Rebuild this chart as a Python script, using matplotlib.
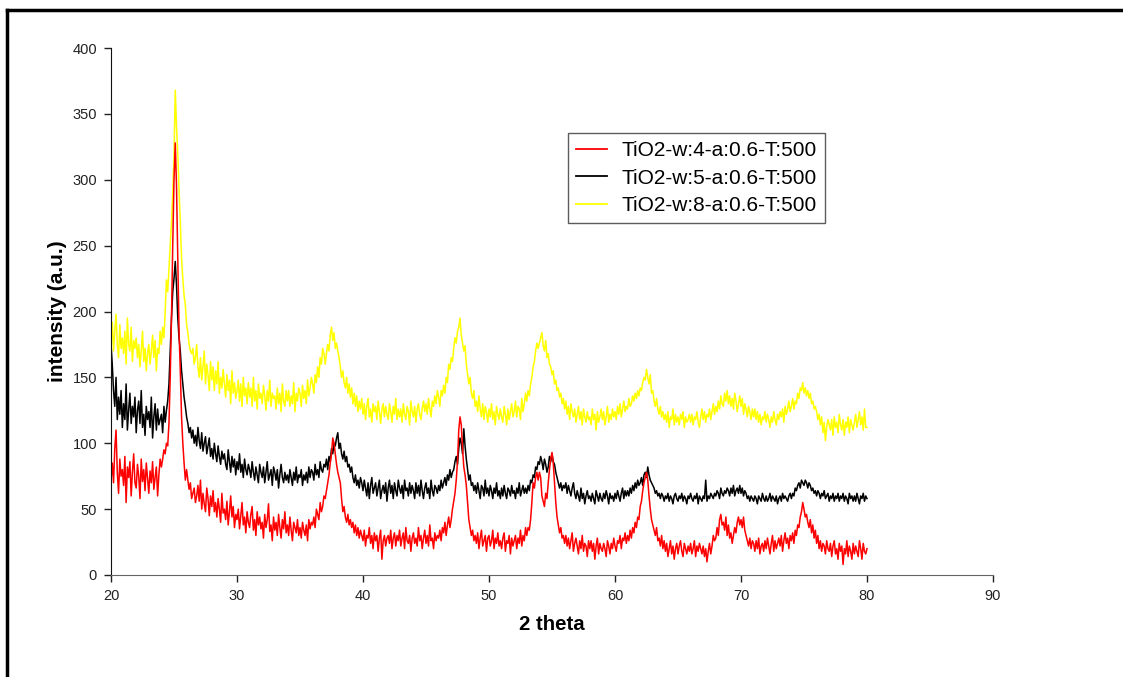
import numpy as np
import matplotlib
matplotlib.use("Agg")
import matplotlib.pyplot as plt
from matplotlib.lines import Line2D

# ==========================================
# DATA (0.1 deg steps from 20 to 80)
# ==========================================
X_START, X_STEP = 20.0, 0.1

red_w4 = [float(v) for v in """
72 85 70 96 110 78 62 88 75 80
68 90 55 82 74 86 60 78 92 70
66 84 75 58 88 71 80 64 85 73
62 79 70 86 65 74 82 60 76 88
82 88 95 92 100 98 115 150 195 250
300 328 295 240 185 155 120 100 85 72
80 72 65 70 58 62 66 55 60 68
56 72 50 62 54 48 66 58 45 60
52 64 48 55 44 58 50 40 62 47
50 42 56 38 48 60 44 52 36 46
42 50 35 45 55 38 44 32 48 40
36 46 52 34 42 30 48 38 44 35
40 28 46 36 42 54 33 38 26 44
34 40 30 46 36 28 42 35 48 32
38 30 44 34 26 40 36 32 42 30
36 28 40 34 30 38 26 42 35 40
38 44 36 50 46 42 55 48 52 60
58 64 70 76 85 92 104 100 92 84
78 74 70 58 48 52 44 40 46 38
42 36 40 32 38 30 36 28 34 30
26 34 22 30 28 36 24 30 20 32
26 30 18 28 34 12 26 30 22 28
30 24 34 20 28 32 22 30 26 34
22 28 32 20 36 26 24 30 18 28
32 24 28 22 36 26 30 20 28 34
24 30 22 38 26 28 20 32 26 30
28 34 26 36 32 40 30 38 44 36
42 50 56 62 72 86 110 120 114 96
82 76 68 55 42 36 30 34 26 30
24 32 20 28 34 22 26 30 18 28
30 22 26 34 20 28 24 32 22 26
20 28 32 18 26 24 30 16 28 22
26 30 20 28 24 34 22 30 26 36
30 36 34 42 55 70 66 74 78 72
78 74 60 56 52 62 58 70 80 88
93 85 70 55 44 38 32 36 28 30
24 30 22 28 20 26 32 18 24 28
22 16 26 20 30 18 24 22 14 26
20 26 18 24 12 22 28 16 24 20
18 24 20 14 26 22 16 24 20 28
22 18 26 24 30 20 28 26 32 24
30 26 34 28 36 32 40 36 44 42
52 56 64 70 74 78 72 60 50 42
38 34 30 36 26 28 22 30 20 26
18 24 14 20 26 16 22 12 20 24
16 22 26 18 14 24 20 16 22 18
24 16 20 26 14 22 18 24 20 16
22 14 20 10 18 24 16 22 30 26
28 36 30 42 46 38 40 34 44 30
38 28 32 24 30 36 32 40 44 38
42 36 44 34 30 26 22 28 20 26
24 18 26 20 28 16 22 24 18 26
20 28 22 16 24 30 18 26 20 24
28 22 30 18 26 32 24 28 20 30
26 32 24 34 30 38 36 44 48 55
50 44 46 40 36 42 32 38 28 34
24 30 20 26 18 24 22 16 26 20
18 24 14 22 26 16 20 12 24 18
22 8 20 16 26 14 22 18 12 24
16 22 18 14 26 20 12 24 18 16
20
""".split()]

black_w5 = [float(v) for v in """
175 160 140 128 150 118 135 122 140 112
130 118 145 110 125 138 115 128 120 135
108 125 132 115 140 112 122 106 128 118
124 112 135 104 120 130 110 126 114 118
122 108 128 116 125 132 145 170 195 215
225 238 220 195 180 170 155 145 135 128
120 115 108 112 104 110 100 106 98 112
102 96 108 94 100 105 92 98 104 90
96 88 100 92 86 98 90 84 94 88
92 84 80 95 86 78 90 82 88 76
86 80 92 78 84 74 88 80 76 84
80 74 86 78 72 82 76 70 84 78
74 82 70 78 86 72 76 80 68 82
78 72 80 66 76 84 74 70 78 72
76 70 80 74 68 78 72 82 70 76
74 80 68 76 72 78 70 82 74 80
78 72 84 76 80 74 86 80 78 84
82 88 80 90 86 96 92 100 98 104
108 96 100 92 88 94 86 90 82 84
78 82 74 70 76 68 72 66 74 70
64 72 66 60 70 58 68 74 62 66
70 60 66 72 58 64 68 62 70 56
66 72 62 68 58 70 64 60 72 66
62 68 58 72 64 66 60 70 62 68
64 58 70 62 68 60 72 64 58 66
70 62 66 58 72 64 60 68 66 62
68 64 72 66 70 74 68 76 72 80
74 78 80 86 90 84 96 104 100 92
111 98 88 80 72 76 68 70 64 68
62 70 64 58 68 66 60 72 62 66
60 68 64 58 66 62 70 60 64 58
66 60 68 62 58 66 64 60 68 62
64 58 66 62 70 60 64 68 62 66
62 68 64 72 70 76 74 82 80 86
84 90 86 80 88 84 78 82 90 86
92 86 84 78 74 70 66 70 64 68
66 70 62 68 64 60 66 70 62 58
64 60 56 66 58 62 54 60 64 58
60 56 62 58 54 64 60 56 62 58
56 62 58 64 60 54 62 58 60 56
62 58 64 60 56 62 66 58 64 60
64 60 66 62 68 64 70 66 72 68
70 74 68 76 78 74 82 76 72 70
68 66 62 64 60 62 58 62 60 56
60 58 62 56 60 58 54 60 62 58
56 60 58 62 56 60 58 54 60 58
62 58 56 60 58 62 54 60 58 56
60 58 72 56 60 58 62 60 58 62
60 64 62 58 66 62 60 64 62 66
64 60 66 62 68 60 64 66 62 68
62 66 60 64 62 58 60 56 60 58
56 60 58 54 60 58 56 62 58 56
60 56 58 62 56 60 58 56 60 54
58 60 56 62 58 60 58 56 60 62
58 62 60 66 64 68 70 66 72 70
68 72 70 66 70 68 64 66 62 64
60 64 62 58 62 60 64 58 60 62
56 60 58 62 56 60 58 62 56 60
58 62 56 60 58 54 62 58 60 56
60 56 62 58 54 60 58 62 56 60
58
""".split()]

yellow_w8 = [float(v) for v in """
178 192 170 185 198 175 165 190 172 180
168 185 160 195 175 170 188 162 178 172
180 165 175 158 170 185 162 172 155 168
175 160 170 182 165 178 155 172 168 185
175 188 180 200 224 215 232 250 268 290
318 368 340 320 292 268 240 225 212 205
190 184 175 170 168 172 160 165 175 158
150 165 148 158 170 145 160 152 140 162
148 158 140 155 145 162 138 150 142 156
145 135 152 140 148 130 155 138 146 134
140 148 132 145 128 150 136 142 130 146
135 142 128 150 132 140 126 145 134 138
130 144 136 125 140 132 148 128 138 134
136 126 142 130 138 124 145 132 128 140
132 140 128 136 130 146 124 138 132 142
138 128 144 134 140 130 148 136 142 150
145 138 152 146 158 150 165 160 172 168
160 168 175 170 182 188 178 184 172 176
170 165 158 150 155 146 142 150 138 145
135 142 130 138 128 136 124 132 126 134
122 130 118 128 134 120 126 116 130 124
128 118 132 124 115 126 130 120 128 122
118 130 124 116 128 122 134 118 126 120
126 116 130 122 118 128 124 114 132 124
120 128 116 126 130 122 118 126 132 124
130 122 134 126 120 132 128 136 130 140
135 128 140 136 144 138 150 146 160 156
165 162 172 180 176 185 188 195 182 176
170 174 160 152 145 150 138 134 140 128
132 124 136 126 120 130 118 128 124 116
126 120 130 118 124 114 128 122 118 126
120 116 128 122 114 126 118 124 130 120
124 132 120 128 126 118 134 124 130 138
132 140 136 145 150 158 162 170 176 172
176 180 184 174 170 178 165 168 160 158
152 155 145 148 140 142 135 138 130 134
126 132 122 128 118 130 124 120 126 116
122 128 118 124 114 126 120 116 124 118
120 114 126 118 122 110 124 116 120 126
118 124 114 120 128 116 122 118 126 120
124 118 128 122 130 120 126 132 124 128
126 134 128 130 136 132 138 134 140 136
142 140 146 150 148 156 150 145 152 138
140 132 128 134 126 122 128 120 124 118
122 116 124 112 120 118 126 114 122 116
120 114 122 118 124 112 120 116 118 122
116 122 114 120 118 124 116 112 120 126
118 124 116 122 120 126 118 124 130 122
128 124 132 126 136 130 128 138 132 140
130 136 128 134 126 138 132 124 130 136
128 134 122 130 126 120 128 124 118 126
120 126 118 124 116 122 114 120 118 124
116 122 118 112 120 116 124 118 114 122
118 124 120 126 116 128 122 126 132 124
128 134 126 132 130 138 134 142 140 146
138 142 136 140 134 138 130 132 126 128
124 118 122 114 120 108 116 102 112 118
114 110 118 106 120 112 116 108 122 114
110 118 106 116 112 120 108 118 114 110
116 122 112 118 124 114 120 110 126 112
112
""".split()]

labels = ["TiO2-w:4-a:0.6-T:500", "TiO2-w:5-a:0.6-T:500", "TiO2-w:8-a:0.6-T:500"]
x_ticks = [20, 30, 40, 50, 60, 70, 80, 90]
y_ticks = [0, 50, 100, 150, 200, 250, 300, 350, 400]

two_theta = X_START + X_STEP * np.arange(len(red_w4))

# ==========================================
# PLOT
# ==========================================
plt.rcParams['font.family'] = ['Liberation Sans', 'DejaVu Sans']

fig = plt.figure(figsize=(11.23, 6.77), dpi=100)
ax = fig.add_axes([111 / 1123, 1 - 575 / 677, (993 - 111) / 1123, (575 - 48) / 677])

l_y, = ax.plot(two_theta, yellow_w8, color='#ffff00', lw=1.1)
l_b, = ax.plot(two_theta, black_w5, color='#000000', lw=1.1)
l_r, = ax.plot(two_theta, red_w4, color='#ff0000', lw=1.1)

ax.set_xlim(20, 90)
ax.set_ylim(0, 400)
ax.set_xticks(x_ticks)
ax.set_yticks(y_ticks)
ax.tick_params(direction='out', length=5, width=1, labelsize=10.5, pad=5, colors='#222222')

for s in ['top', 'right']:
    ax.spines[s].set_visible(False)
ax.spines['left'].set_color('#111111')
ax.spines['bottom'].set_color('#666666')

ax.set_xlabel('2 theta', fontsize=14.7, fontweight='bold', labelpad=9)
ax.set_ylabel('intensity (a.u.)', fontsize=15, fontweight='bold', labelpad=4)

leg = ax.legend([l_r, l_b, l_y], labels, loc='upper left',
                bbox_to_anchor=(568 / 1123, 1 - 133 / 677), bbox_transform=fig.transFigure,
                borderaxespad=0, fontsize=15, frameon=True, fancybox=False, edgecolor='#333333',
                handlelength=1.5, borderpad=0.38, labelspacing=0.42, handletextpad=0.7)
leg.get_frame().set_linewidth(1.0)
for h in leg.get_lines():
    h.set_linewidth(1.3)

# outer frame of the chart area (top and left edges are visible)
fig.add_artist(Line2D([7 / 1123, 1.0], [1 - 10 / 677, 1 - 10 / 677], color='black', lw=2.5, transform=fig.transFigure))
fig.add_artist(Line2D([7 / 1123, 7 / 1123], [0.0, 1 - 10 / 677], color='black', lw=2.5, transform=fig.transFigure))

fig.savefig('out.png', dpi=100)
